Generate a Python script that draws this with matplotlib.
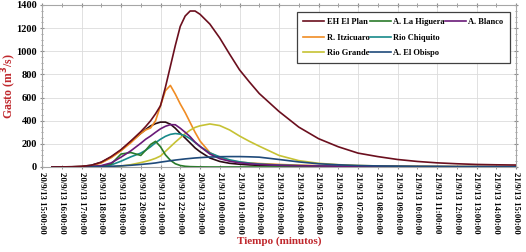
import matplotlib
matplotlib.use("Agg")
import matplotlib.pyplot as plt
from matplotlib.ticker import MultipleLocator
from matplotlib.lines import Line2D

# hours after 20/9/13 15:00:00
hours = [0.5, 1, 1.5, 2, 2.5, 3, 3.5, 4, 4.5, 5, 5.25, 5.5, 5.75, 6, 6.25, 6.5, 6.75, 7,
         7.25, 7.5, 7.75, 8, 8.5, 9, 9.5, 10, 10.5, 11, 12, 13, 14, 15, 16, 17, 18, 19,
         20, 21, 22, 23, 24]

eh_el_plan = [0, 1, 2, 5, 15, 42, 90, 150, 225, 305, 350, 400, 460, 530, 690, 870, 1050, 1215,
              1305, 1348, 1348, 1320, 1235, 1115, 975, 840, 735, 635, 480, 345, 245, 175, 120, 90,
              65, 48, 36, 28, 22, 19, 17]
unlabeled_dark = [0, 1, 2, 5, 15, 40, 85, 145, 220, 290, 325, 355, 375, 388, 388, 370, 335, 290,
                  250, 208, 165, 132, 78, 48, 32, 24, 18, 14, 10, 8, 7, 6, 5, 4, 4, 3, 3, 3, 3, 3, 3]
a_blanco = [0, 0, 1, 2, 5, 12, 35, 85, 140, 205, 240, 268, 300, 330, 352, 366, 365, 335,
            300, 262, 215, 178, 112, 72, 50, 36, 28, 22, 15, 11, 9, 7, 6, 5, 4, 3, 3, 2, 2, 2, 2]
rio_chiquito = [0, 0, 0, 1, 2, 5, 18, 50, 88, 120, 145, 175, 210, 240, 265, 282, 289, 284,
                270, 245, 212, 178, 122, 88, 62, 45, 34, 26, 17, 12, 9, 7, 6, 5, 4, 3, 3, 2, 2, 2, 2]
a_la_higuera = [0, 0, 0, 1, 3, 8, 25, 112, 125, 100, 145, 195, 222, 175, 105, 58, 28, 13,
                6, 3, 2, 1, 0, 0, 0, 0, 0, 0, 0, 0, 0, 0, 0, 0, 0, 0, 0, 0, 0, 0, 0]
rio_grande = [0, 0, 0, 0, 0, 0, 2, 8, 20, 38, 48, 60, 75, 95, 135, 175, 215, 252,
              288, 318, 342, 356, 372, 358, 320, 268, 222, 180, 100, 55, 32, 20, 13, 9, 7, 5, 4, 3, 3, 2, 2]
a_el_obispo = [0, 0, 0, 0, 1, 3, 6, 10, 15, 22, 26, 30, 35, 42, 48, 54, 60, 65,
               70, 74, 78, 81, 86, 89, 90, 90, 88, 85, 65, 44, 28, 19, 13, 9, 7, 5, 4, 3, 3, 2, 2]
r_itzicuaro = [0, 0, 1, 3, 10, 35, 80, 140, 210, 290, 320, 338, 400, 530, 660, 705, 630, 545,
               470, 385, 300, 225, 124, 78, 55, 42, 35, 30, 22, 16, 12, 9, 7, 6, 5, 4, 3, 3, 2, 2, 2]

tick_hours = list(range(25))
tick_labels = ["20/9/13 15:00:00", "20/9/13 16:00:00", "20/9/13 17:00:00", "20/9/13 18:00:00",
               "20/9/13 19:00:00", "20/9/13 20:00:00", "20/9/13 21:00:00", "20/9/13 22:00:00",
               "20/9/13 23:00:00", "21/9/13 00:00:00", "21/9/13 01:00:00", "21/9/13 02:00:00",
               "21/9/13 03:00:00", "21/9/13 04:00:00", "21/9/13 05:00:00", "21/9/13 06:00:00",
               "21/9/13 07:00:00", "21/9/13 08:00:00", "21/9/13 09:00:00", "21/9/13 10:00:00",
               "21/9/13 11:00:00", "21/9/13 12:00:00", "21/9/13 13:00:00", "21/9/13 14:00:00",
               "21/9/13 15:00:00"]

plt.rcParams['font.family'] = ['Liberation Serif', 'DejaVu Serif']
plt.rcParams['font.weight'] = 'bold'

fig = plt.figure(figsize=(5.26, 2.52), dpi=100)
ax = fig.add_axes([42/526, 1-167/252, 474/526, 162/252])

lw = 1.2
ax.plot(hours, unlabeled_dark, color='#2a0a12', lw=lw, zorder=3)
l_plan, = ax.plot(hours, eh_el_plan, color='#6b0f1e', lw=lw, zorder=9, label='EH El Plan')
l_itz, = ax.plot(hours, r_itzicuaro, color='#f08c24', lw=lw, zorder=4, label='R. Itzicuaro')
l_gra, = ax.plot(hours, rio_grande, color='#c6c234', lw=lw, zorder=4, label='Rio Grande')
l_hig, = ax.plot(hours, a_la_higuera, color='#2a7a2a', lw=lw, zorder=5, label='A. La Higuera')
l_chi, = ax.plot(hours, rio_chiquito, color='#188a8a', lw=lw, zorder=4, label='Rio Chiquito')
l_obi, = ax.plot(hours, a_el_obispo, color='#1f4a7a', lw=lw, zorder=6, label='A. El Obispo')
l_bla, = ax.plot(hours, a_blanco, color='#6a1a78', lw=lw, zorder=5, label='A. Blanco')

ax.set_xlim(0, 24)
ax.set_ylim(0, 1400)

even = [h for h in tick_hours if h % 2 == 0]
odd = [h for h in tick_hours if h % 2 == 1]
ax.set_xticks(even, labels=[tick_labels[h] for h in even])
ax.set_xticks(odd, labels=[tick_labels[h] for h in odd], minor=True)
ax.set_yticks(range(0, 1401, 200))
ax.yaxis.set_minor_locator(MultipleLocator(50))

ax.tick_params(axis='x', which='both', labelrotation=270, labelsize=6.3, length=2.5,
               direction='inout', colors='#8c8c8c', labelcolor='black', pad=2, top=True)
ax.tick_params(axis='y', which='major', labelsize=7.5, length=3, direction='inout',
               colors='#8c8c8c', labelcolor='black', pad=2, right=True)
ax.tick_params(axis='y', which='minor', length=1.8, direction='inout', colors='#8c8c8c', right=True)
for lab in ax.get_xticklabels(which='both'):
    lab.set_fontweight('bold')
    lab.set_va('top')
    lab.set_ha('center')
for lab in ax.get_yticklabels():
    lab.set_fontweight('bold')

ax.grid(True, which='major', color='#dcdcdc', lw=0.6)
ax.set_axisbelow(True)
for s in ax.spines.values():
    s.set_color('#a6a6a6')
    s.set_linewidth(0.8)

ax.set_ylabel('Gasto (m$^\\mathbf{3}$/s)', color='#c0282d', fontsize=8.5, fontweight='bold')
ax.yaxis.set_label_coords(-0.049, 0.5)
ax.set_xlabel('Tiempo (minutos)', color='#c0282d', fontsize=8, fontweight='bold', labelpad=2)

blank = Line2D([], [], color='none', label=' ')
handles = [l_plan, l_itz, l_gra, l_hig, l_chi, l_obi, l_bla, blank, blank]
leg = ax.legend(handles=handles, ncol=3, loc='upper right', bbox_to_anchor=(0.987, 0.957),
                borderaxespad=0,
                prop={'family': 'Liberation Serif', 'weight': 'bold', 'size': 6.0},
                frameon=True, fancybox=False, edgecolor='#404040', framealpha=1,
                handlelength=2.5, handletextpad=0.3, columnspacing=0.05,
                borderpad=0.75, labelspacing=0.9)
leg.get_frame().set_linewidth(0.9)
leg.set_zorder(20)

fig.savefig('out.png', dpi=100)
